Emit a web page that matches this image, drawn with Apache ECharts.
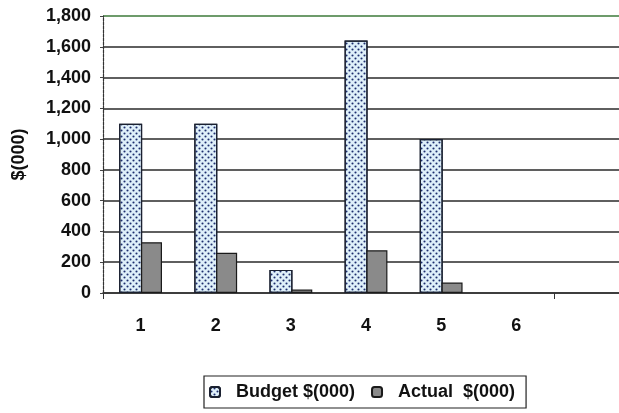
<!DOCTYPE html>
<html>
<head>
<meta charset="utf-8">
<script src="https://cdn.jsdelivr.net/npm/echarts@6/dist/echarts.min.js"></script>
<style>
  html, body { margin: 0; padding: 0; background: #fff; }
  #chart { width: 619px; height: 413px; }
</style>
</head>
<body>
<div id="chart"></div>
<script>
// categories (7th slot is empty in the original)
const categories = ['1', '2', '3', '4', '5', '6', ''];
const budget = [1100, 1100, 150, 1640, 1000, null, null];
const actual = [330, 262, 22, 278, 68, null, null];
const yTicks = [0, 200, 400, 600, 800, 1000, 1200, 1400, 1600, 1800];

const font = 'Liberation Sans, Arial, sans-serif';
const chart = echarts.init(document.getElementById('chart'));

chart.setOption({
  animation: false,
  backgroundColor: '#fff',
  grid: { left: 103, top: 16, bottom: 120, width: 526, outerBoundsMode: 'none', containLabel: false },
  legend: {
    left: 204, top: 376,
    itemWidth: 10, itemHeight: 10, itemGap: 16,
    padding: [7, 11, 7, 5],
    borderColor: '#222', borderWidth: 1.2,
    textStyle: { fontFamily: font, fontWeight: 'bold', fontSize: 18, color: '#111', padding: [0, 0, 0, 11] },
    data: ['Budget $(000)', 'Actual  $(000)']
  },
  xAxis: {
    type: 'category',
    data: categories,
    axisLine: { lineStyle: { color: '#333', width: 1.5 } },
    axisTick: { show: true, interval: 5, length: 6, lineStyle: { color: '#333' } },
    axisLabel: { fontFamily: font, fontWeight: 'bold', fontSize: 18, color: '#111', margin: 24 }
  },
  yAxis: {
    type: 'value',
    min: yTicks[0], max: yTicks[yTicks.length - 1], interval: 200,
    name: '$(000)', nameLocation: 'middle', nameGap: 75, nameRotate: 90,
    nameTextStyle: { fontFamily: font, fontWeight: 'bold', fontSize: 18, color: '#111' },
    axisLine: { show: true, lineStyle: { color: '#333', width: 1.2, type: [3, 1] } },
    axisTick: { show: true, length: 3, lineStyle: { color: '#444' } },
    axisLabel: {
      fontFamily: font, fontWeight: 'bold', fontSize: 18, color: '#111', margin: 12,
      formatter: v => v.toLocaleString('en-US')
    },
    splitLine: {
      lineStyle: {
        width: 1.5,
        color: yTicks.map((t, i) => i === yTicks.length - 1 ? '#3d7a3a' : '#2a2a2a')
      }
    }
  },
  series: [
    {
      name: 'Budget $(000)', type: 'bar', data: budget,
      barWidth: 23, barGap: '-5%',
      itemStyle: {
        color: '#dff0fa', borderColor: '#1a2030', borderWidth: 1.2,
        decal: {
          symbol: 'circle', symbolSize: 0.7, color: '#1d2d6e',
          dashArrayX: [[3, 3], [0, 3, 3, 0]], dashArrayY: [3, 0], rotation: 0
        }
      }
    },
    {
      name: 'Actual  $(000)', type: 'bar', data: actual,
      barWidth: 21,
      itemStyle: { color: '#8a8a8a', borderColor: '#1a1a1a', borderWidth: 1.2 }
    }
  ]
});
</script>
</body>
</html>
